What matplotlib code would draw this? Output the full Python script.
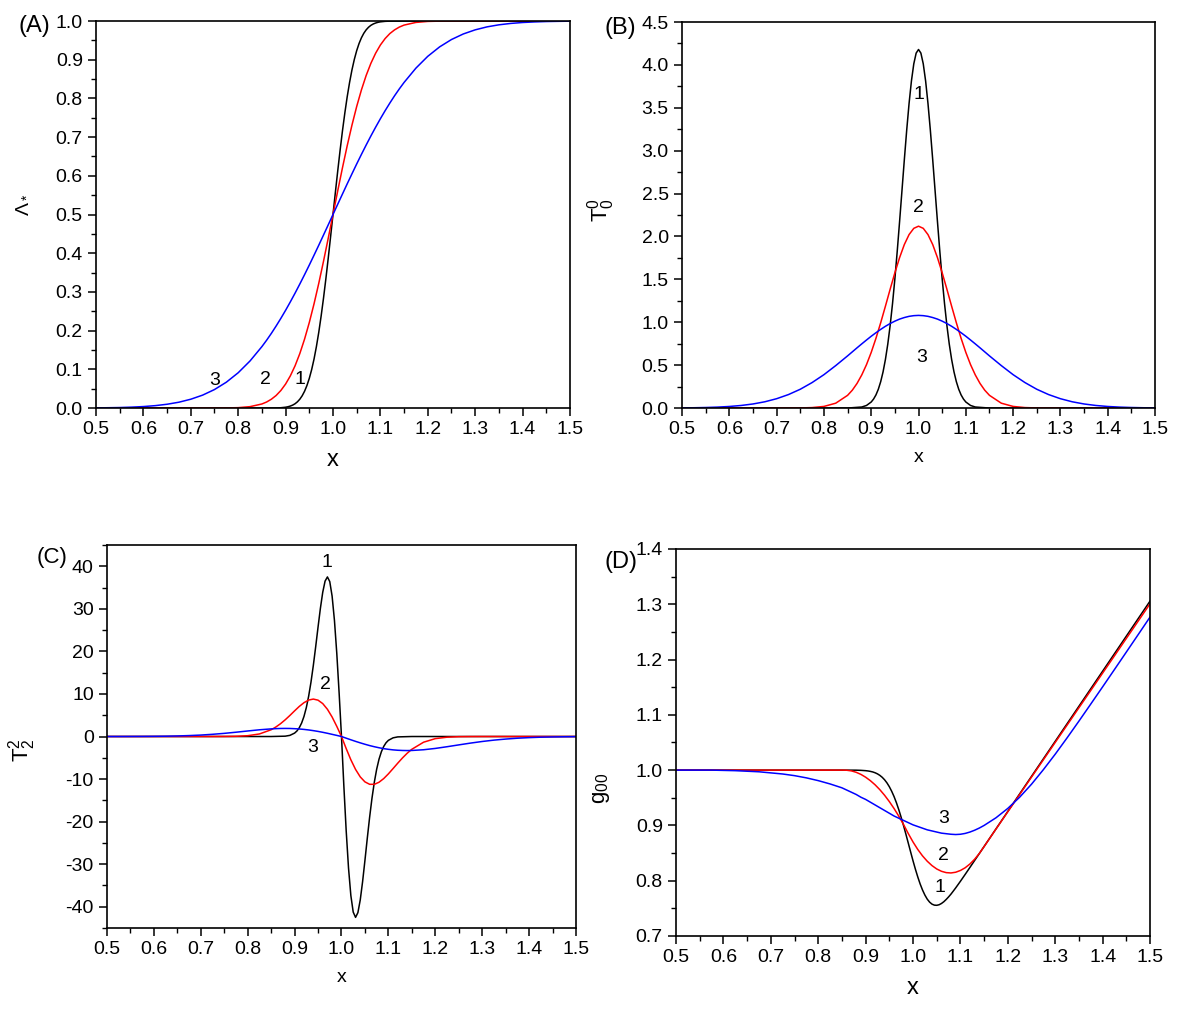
import matplotlib
matplotlib.use("Agg")
import matplotlib.pyplot as plt
from matplotlib.ticker import MultipleLocator

plt.rcParams['font.family'] = ['Liberation Sans', 'DejaVu Sans']
plt.rcParams['axes.unicode_minus'] = False
plt.rcParams['mathtext.fontset'] = 'custom'
plt.rcParams['mathtext.rm'] = 'Liberation Sans'
plt.rcParams['mathtext.it'] = 'Liberation Sans'

# x positions for the narrow curves (curve 1) and for curves 2 and 3
x_narrow = [0.50, 0.70, 0.85, 0.88, 0.89,
            0.900, 0.905, 0.910, 0.915, 0.920, 0.925, 0.930, 0.935, 0.940, 0.945,
            0.950, 0.955, 0.960, 0.965, 0.970, 0.975, 0.980, 0.985, 0.990, 0.995,
            1.000, 1.005, 1.010, 1.015, 1.020, 1.025, 1.030, 1.035, 1.040, 1.045,
            1.050, 1.055, 1.060, 1.065, 1.070, 1.075, 1.080, 1.085, 1.090, 1.095,
            1.100, 1.11, 1.12, 1.15, 1.20, 1.30, 1.40, 1.50]
x_wide = [0.500, 0.525, 0.550, 0.575, 0.600, 0.625, 0.650, 0.675, 0.700, 0.725,
          0.750, 0.775, 0.800, 0.825,
          0.85, 0.86, 0.87, 0.88, 0.89, 0.90, 0.91, 0.92, 0.93, 0.94,
          0.95, 0.96, 0.97, 0.98, 0.99, 1.00, 1.01, 1.02, 1.03, 1.04,
          1.05, 1.06, 1.07, 1.08, 1.09, 1.10, 1.11, 1.12, 1.13, 1.14, 1.15,
          1.175, 1.200, 1.225, 1.250, 1.275, 1.300, 1.325, 1.350, 1.375, 1.400,
          1.425, 1.450, 1.475, 1.500]

# (A) Lambda_*
lam_1 = [0, 0, 0, 0.0003, 0.0008,
         0.0021, 0.0033, 0.0051, 0.0076, 0.0111, 0.0161, 0.0228, 0.0317, 0.0433, 0.0581,
         0.0766, 0.0993, 0.1265, 0.1587, 0.1957, 0.2377, 0.2839, 0.3341, 0.3875, 0.4432,
         0.5, 0.5568, 0.6125, 0.6659, 0.7161, 0.7623, 0.8043, 0.8413, 0.8735, 0.9007,
         0.9234, 0.9419, 0.9567, 0.9683, 0.9772, 0.9839, 0.9889, 0.9924, 0.9949, 0.9967,
         0.9979, 0.9992, 0.9997, 1, 1, 1, 1, 1]
lam_2 = [0, 0, 0, 0, 0, 0, 0, 0, 0, 0, 0.0001, 0.0003, 0.0010, 0.0036,
         0.0105, 0.0156, 0.0228, 0.0324, 0.0453, 0.0620, 0.0831, 0.1092, 0.1407, 0.1780,
         0.2209, 0.2692, 0.3222, 0.3792, 0.4389, 0.5, 0.5611, 0.6208, 0.6778, 0.7308,
         0.7791, 0.8220, 0.8593, 0.8908, 0.9169, 0.9380, 0.9547, 0.9676, 0.9772, 0.9844, 0.9895,
         0.9964, 0.9990, 0.9997, 0.9999, 1, 1, 1, 1, 1, 1, 1, 1, 1, 1]
lam_3 = [0.0004, 0.0008, 0.0013, 0.0023, 0.0038, 0.0062, 0.0098, 0.0151, 0.0228, 0.0334,
         0.0478, 0.0668, 0.0912, 0.1217,
         0.1587, 0.1753, 0.1930, 0.2119, 0.2317, 0.2525, 0.2743, 0.2969, 0.3204, 0.3446,
         0.3694, 0.3949, 0.4207, 0.4470, 0.4734, 0.5, 0.5266, 0.5530, 0.5793, 0.6051,
         0.6306, 0.6554, 0.6796, 0.7031, 0.7257, 0.7475, 0.7683, 0.7881, 0.8070, 0.8247, 0.8413,
         0.8783, 0.9088, 0.9332, 0.9522, 0.9666, 0.9772, 0.9849, 0.9902, 0.9938, 0.9962,
         0.9977, 0.9987, 0.9992, 0.9996]

# (B) T_0^0
t00_1 = [0, 0, 0, 0.012, 0.030,
         0.0705, 0.105, 0.153, 0.219, 0.307, 0.421, 0.566, 0.745, 0.962, 1.216,
         1.506, 1.829, 2.176, 2.535, 2.895, 3.239, 3.550, 3.813, 4.013, 4.138,
         4.18, 4.138, 4.013, 3.813, 3.550, 3.239, 2.895, 2.535, 2.176, 1.829,
         1.506, 1.216, 0.962, 0.745, 0.566, 0.421, 0.307, 0.219, 0.153, 0.105,
         0.0705, 0.030, 0.012, 0, 0, 0, 0, 0]
t00_2 = [0, 0, 0, 0, 0, 0, 0, 0, 0, 0.0003, 0.0013, 0.0053, 0.0187, 0.0566,
         0.148, 0.208, 0.287, 0.386, 0.506, 0.649, 0.813, 0.994, 1.187, 1.385,
         1.577, 1.754, 1.906, 2.022, 2.095, 2.12, 2.095, 2.022, 1.906, 1.754,
         1.577, 1.385, 1.187, 0.994, 0.813, 0.649, 0.506, 0.386, 0.287, 0.208, 0.148,
         0.0566, 0.0187, 0.0053, 0.0013, 0.0003, 0, 0, 0, 0, 0, 0, 0, 0, 0]
t00_3 = [0.0018, 0.0034, 0.0062, 0.0108, 0.0182, 0.0299, 0.0474, 0.0729, 0.1088, 0.157,
         0.219, 0.297, 0.389, 0.495,
         0.608, 0.655, 0.702, 0.748, 0.793, 0.837, 0.878, 0.917, 0.953, 0.985,
         1.013, 1.037, 1.055, 1.069, 1.077, 1.08, 1.077, 1.069, 1.055, 1.037,
         1.013, 0.985, 0.953, 0.917, 0.878, 0.837, 0.793, 0.748, 0.702, 0.655, 0.608,
         0.495, 0.389, 0.297, 0.219, 0.157, 0.1088, 0.0729, 0.0474, 0.0299, 0.0182,
         0.0108, 0.0062, 0.0034, 0.0018]

# (C) T_2^2
t22_1 = [0, 0, 0, 0.08, 0.27,
         0.80, 1.30, 2.06, 3.17, 4.71, 6.79, 9.48, 12.81, 16.74, 21.11,
         25.70, 30.11, 33.89, 36.52, 37.50, 36.41, 33.00, 27.28, 19.50, 10.16,
         0, -11.52, -22.10, -30.92, -37.40, -41.26, -42.50, -41.39, -38.41, -34.12,
         -29.12, -23.93, -18.97, -14.52, -10.75, -7.70, -5.34, -3.59, -2.34, -1.47,
         -0.90, -0.31, -0.09, 0, 0, 0, 0, 0]
t22_2 = [0, 0, 0, 0, 0, 0, 0, 0, 0, 0, 0.01, 0.05, 0.19, 0.60,
         1.59, 2.23, 3.01, 3.93, 4.95, 6.03, 7.07, 7.95, 8.57, 8.80,
         8.54, 7.74, 6.40, 4.58, 2.38, 0, -2.83, -5.47, -7.73, -9.49,
         -10.66, -11.23, -11.24, -10.75, -9.89, -8.78, -7.53, -6.26, -5.04, -3.94, -3.00,
         -1.34, -0.50, -0.16, -0.04, -0.01, 0, 0, 0, 0, 0, 0, 0, 0, 0]
t22_3 = [0.00, 0.00, 0.01, 0.02, 0.04, 0.07, 0.13, 0.22, 0.34, 0.52,
         0.74, 1.01, 1.30, 1.58,
         1.79, 1.85, 1.89, 1.90, 1.89, 1.84, 1.77, 1.67, 1.54, 1.38,
         1.20, 0.99, 0.76, 0.51, 0.26, 0, -0.39, -0.77, -1.14, -1.49,
         -1.82, -2.13, -2.40, -2.64, -2.85, -3.01, -3.14, -3.23, -3.28, -3.30, -3.28,
         -3.11, -2.80, -2.40, -1.97, -1.55, -1.17, -0.85, -0.60, -0.40, -0.26,
         -0.16, -0.10, -0.06, -0.03]

# (D) g_00
g_1 = [1.0, 1.0, 1.0, 0.9999, 0.9996,
       0.9990, 0.9985, 0.9977, 0.9967, 0.9952, 0.9932, 0.9905, 0.9870, 0.9825, 0.9769,
       0.9700, 0.9617, 0.9521, 0.9409, 0.9283, 0.9145, 0.8996, 0.8840, 0.8679, 0.8518,
       0.8359, 0.8208, 0.8068, 0.7941, 0.7832, 0.7740, 0.7666, 0.7612, 0.7576, 0.7558,
       0.7555, 0.7565, 0.7588, 0.7620, 0.7661, 0.7707, 0.7757, 0.7813, 0.7870, 0.7930,
       0.7990, 0.8114, 0.8240, 0.8620, 0.9254, 1.0522, 1.1790, 1.3058]
g_2 = [1, 1, 1, 1, 1, 1, 1, 1, 1, 1, 1, 1, 1, 1,
       1.0, 0.9998, 0.9986, 0.9961, 0.9923, 0.9872, 0.9809, 0.9734, 0.9646, 0.9545,
       0.9431, 0.9305, 0.9167, 0.9016, 0.8852, 0.8700, 0.8565, 0.8449, 0.8352, 0.8273,
       0.8212, 0.8170, 0.8146, 0.8140, 0.8153, 0.8185, 0.8234, 0.8302, 0.8389, 0.8494, 0.8618,
       0.8934, 0.9248, 0.9561, 0.9875, 1.0188, 1.0502, 1.0815, 1.1129, 1.1442, 1.1756,
       1.2069, 1.2383, 1.2696, 1.3010]
g_3 = [1.000, 1.000, 1.000, 1.000, 0.9995, 0.999, 0.998, 0.997, 0.995, 0.993,
       0.990, 0.986, 0.981, 0.975,
       0.968, 0.964, 0.960, 0.956, 0.951, 0.947, 0.942, 0.937, 0.932, 0.927,
       0.922, 0.917, 0.913, 0.909, 0.905, 0.901, 0.898, 0.895, 0.892, 0.890,
       0.888, 0.886, 0.885, 0.884, 0.8835, 0.884, 0.8855, 0.888, 0.8913, 0.8953, 0.900,
       0.9138, 0.9308, 0.9511, 0.9746, 1.0009, 1.0289, 1.0584, 1.0887, 1.1196, 1.1507,
       1.1821, 1.2136, 1.2452, 1.2769]

fig = plt.figure(figsize=(11.81, 10.11), dpi=100)
axA = fig.add_axes([0.0813, 0.5964, 0.4013, 0.3828])
axB = fig.add_axes([0.5775, 0.5964, 0.4005, 0.3818])
axC = fig.add_axes([0.0906, 0.0821, 0.3971, 0.3788])
axD = fig.add_axes([0.5724, 0.0742, 0.4014, 0.3828])

panels = [
    (axA, [lam_1, lam_2, lam_3], (0, 1.0), 0.1, 0.05, r'$\Lambda_*$', 14, (-0.139, 0.525), 17),
    (axB, [t00_1, t00_2, t00_3], (0, 4.5), 0.5, 0.25, r'$\mathrm{T}_0^0$', 16, (-0.137, 0.513), 14),
    (axC, [t22_1, t22_2, t22_3], (-45, 45), 10, 5, r'$\mathrm{T}_2^2$', 16, (-0.147, 0.465), 14),
    (axD, [g_1, g_2, g_3], (0.7, 1.4), 0.1, 0.05, r'$\mathrm{g}_{00}$', 16, (-0.135, 0.382), 17),
]

for ax, curves, ylim, major, minor, ylab, ysize, ypos, xsize in panels:
    ax.plot(x_narrow, curves[0], color='black', lw=1.1)
    ax.plot(x_wide, curves[1], color='red', lw=1.1)
    ax.plot(x_wide, curves[2], color='blue', lw=1.1)
    ax.set_xlim(0.5, 1.5)
    ax.set_ylim(*ylim)
    ax.xaxis.set_major_locator(MultipleLocator(0.1))
    ax.xaxis.set_minor_locator(MultipleLocator(0.05))
    ax.yaxis.set_major_locator(MultipleLocator(major))
    ax.yaxis.set_minor_locator(MultipleLocator(minor))
    ax.tick_params(which='major', direction='out', length=6, width=1.1, labelsize=14)
    ax.tick_params(which='minor', direction='out', length=3.5, width=1.0)
    for s in ax.spines.values():
        s.set_linewidth(1.2)
    ax.set_xlabel('x', fontsize=xsize, labelpad=8)
    ax.set_ylabel(ylab, fontsize=ysize)
    ax.yaxis.set_label_coords(*ypos)

axC.set_yticks([-40, -30, -20, -10, 0, 10, 20, 30, 40])

# panel tags, placed in figure pixels
W, H = 1181, 1011
for tx, ty, tag, size in [(18, 26, '(A)', 17), (604, 28, '(B)', 17),
                          (37, 558, '(C)', 16), (604, 562, '(D)', 17)]:
    fig.text(tx / W, 1 - ty / H, tag, fontsize=size, ha='left', va='center')

# curve numbers
fs = 14
axA.text(0.751, 0.07, '3', fontsize=fs, ha='center', va='center')
axA.text(0.857, 0.075, '2', fontsize=fs, ha='center', va='center')
axA.text(0.930, 0.075, '1', fontsize=fs, ha='center', va='center')
axB.text(1.000, 3.65, '1', fontsize=fs, ha='center', va='center')
axB.text(1.000, 2.34, '2', fontsize=fs, ha='center', va='center')
axB.text(1.006, 0.59, '3', fontsize=fs, ha='center', va='center')
axC.text(0.969, 41.0, '1', fontsize=fs, ha='center', va='center')
axC.text(0.965, 12.3, '2', fontsize=fs, ha='center', va='center')
axC.text(0.939, -2.6, '3', fontsize=fs, ha='center', va='center')
axD.text(1.065, 0.913, '3', fontsize=fs, ha='center', va='center')
axD.text(1.065, 0.845, '2', fontsize=fs, ha='center', va='center')
axD.text(1.057, 0.787, '1', fontsize=fs, ha='center', va='center')

fig.savefig('out.png', dpi=100)
